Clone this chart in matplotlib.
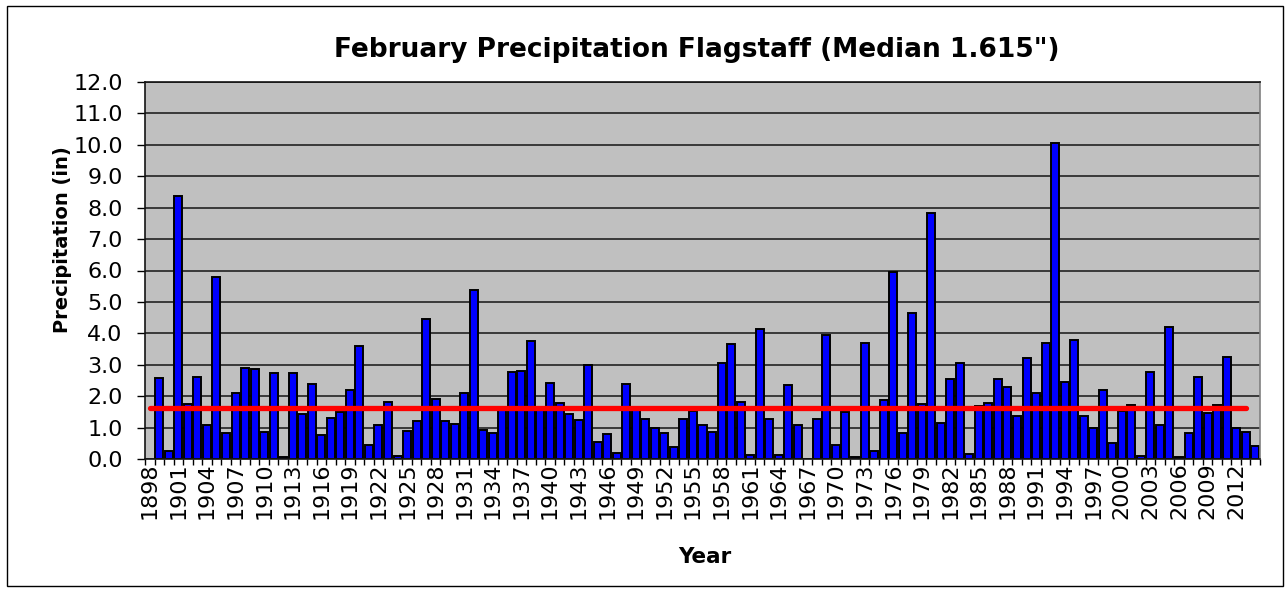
import numpy as np
import matplotlib
matplotlib.use("Agg")
import matplotlib.pyplot as plt
from matplotlib.patches import Rectangle
from matplotlib.ticker import MultipleLocator, FixedLocator, FuncFormatter

# February precipitation totals at Flagstaff (inches); 1898 has no record
years = list(range(1898, 2015))
precip = [
    np.nan, 2.58, 0.27, 8.38, 1.75, 2.62, 1.09, 5.80, 0.82, 2.09,   # 1898-1907
    2.90, 2.85, 0.87, 2.75, 0.05, 2.75, 1.43, 2.38, 0.77, 1.31,     # 1908-1917
    1.51, 2.20, 3.61, 0.43, 1.08, 1.82, 0.10, 0.89, 1.21, 4.47,     # 1918-1927
    1.90, 1.21, 1.10, 2.11, 5.38, 0.92, 0.82, 1.57, 2.76, 2.80,     # 1928-1937
    3.75, 1.58, 2.43, 1.77, 1.42, 1.24, 2.99, 0.55, 0.80, 0.18,     # 1938-1947
    2.39, 1.55, 1.28, 1.00, 0.84, 0.37, 1.28, 1.53, 1.08, 0.86,     # 1948-1957
    3.04, 3.65, 1.80, 0.14, 4.15, 1.28, 0.14, 2.34, 1.08, 0.00,     # 1958-1967
    1.28, 3.96, 0.43, 1.50, 0.07, 3.70, 0.25, 1.89, 5.96, 0.84,     # 1968-1977
    4.66, 1.75, 7.82, 1.16, 2.55, 3.04, 0.15, 1.70, 1.77, 2.55,     # 1978-1987
    2.30, 1.37, 3.20, 2.11, 3.70, 10.05, 2.46, 3.79, 1.38, 0.98,    # 1988-1997
    2.20, 0.52, 1.54, 1.71, 0.10, 2.76, 1.08, 4.19, 0.07, 0.84,     # 1998-2007
    2.60, 1.48, 1.71, 3.24, 1.00, 0.87, 0.42,                       # 2008-2014
]
median_value = 1.615
median_years = (1898, 2013)
label_step = 3

assert len(years) == len(precip)

plt.rcParams["font.family"] = ["DejaVu Sans"]

W, H = 1288, 589
fig = plt.figure(figsize=(W / 100, H / 100), dpi=100)
fig.patch.set_facecolor("white")

# outer chart frame
fig.add_artist(Rectangle((7 / W, 1 - 586 / H), (1283 - 7) / W, (586 - 6) / H,
                         transform=fig.transFigure, fill=False,
                         edgecolor="black", linewidth=1.0))

left, right, top, bottom = 145, 1260, 82, 459
ax = fig.add_axes([left / W, 1 - bottom / H, (right - left) / W, (bottom - top) / H])
ax.set_facecolor("#C0C0C0")

x = np.arange(len(years))
vals = np.array(precip, dtype=float)
mask = ~np.isnan(vals)
ax.bar(x[mask], vals[mask], width=0.84, color="#0000FF",
       edgecolor="black", linewidth=1.4, zorder=2)

# median reference line
i0 = years.index(median_years[0])
i1 = years.index(median_years[1])
ax.plot([x[i0], x[i1]], [median_value, median_value], color="#FF0000",
        linewidth=3.8, solid_capstyle="round", zorder=3)

ax.set_xlim(-0.5, len(years) - 0.5)
ax.set_ylim(0, 12)

ax.yaxis.set_major_locator(MultipleLocator(1.0))
ax.yaxis.set_major_formatter(FuncFormatter(lambda v, p: f"{v:.1f}"))
ax.yaxis.grid(True, color="#141414", linewidth=1.1)
ax.set_axisbelow(True)

label_idx = [i for i in range(len(years)) if (years[i] - years[0]) % label_step == 0]
ax.xaxis.set_major_locator(FixedLocator(label_idx))
ax.set_xticklabels([str(years[i]) for i in label_idx], rotation=90)
ax.xaxis.set_minor_locator(FixedLocator(np.arange(len(years) + 1) - 0.5))

ax.tick_params(axis="x", which="major", length=0, pad=2.5, labelsize=16)
ax.tick_params(axis="x", which="minor", length=4.5, width=1.0, direction="out", color="black")
ax.tick_params(axis="y", which="major", length=6, width=1.0, direction="out",
               pad=10, labelsize=16)

for side in ("left", "bottom", "top"):
    ax.spines[side].set_color("#141414")
    ax.spines[side].set_linewidth(1.2)
ax.spines["right"].set_color("#808080")
ax.spines["right"].set_linewidth(1.2)

fig.text(697 / W, 1 - 50 / H, 'February Precipitation Flagstaff (Median 1.615")',
         ha="center", va="center", fontsize=19, fontweight="bold")
fig.text(62 / W, 1 - 240 / H, "Precipitation (in)", rotation=90,
         ha="center", va="center", fontsize=14, fontweight="bold")
fig.text(705 / W, 1 - 557 / H, "Year", ha="center", va="center",
         fontsize=15.5, fontweight="bold")

fig.savefig("out.png", dpi=100, facecolor="white")
